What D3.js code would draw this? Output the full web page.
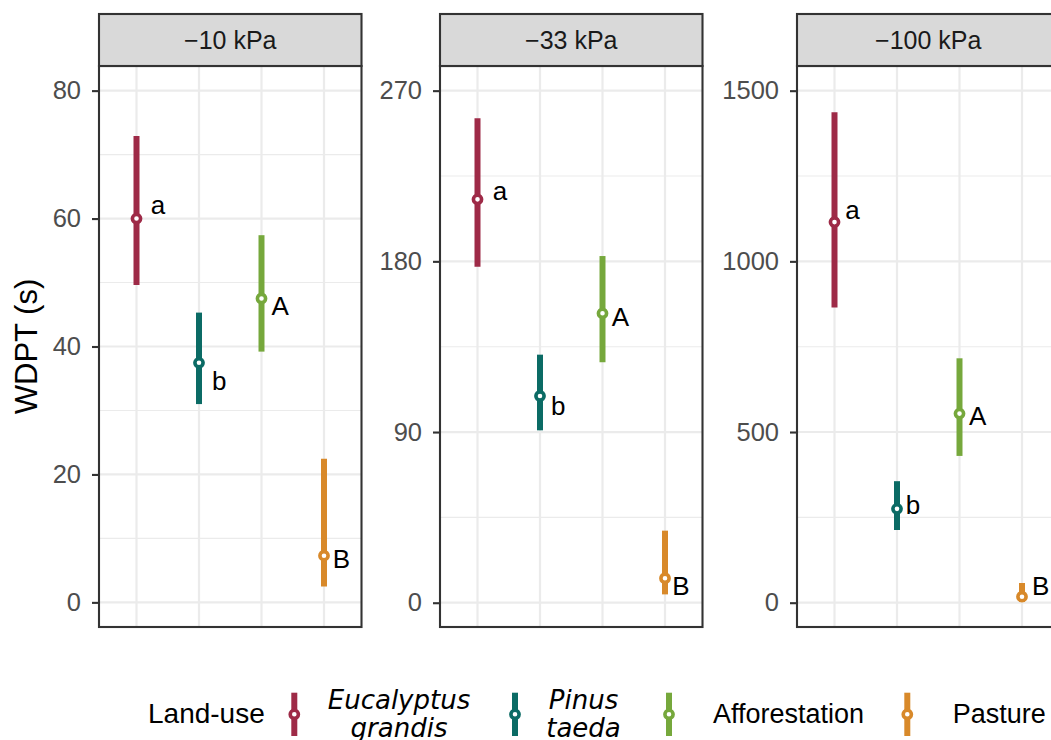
<!DOCTYPE html>
<html>
<head>
<meta charset="utf-8">
<script src="https://cdn.jsdelivr.net/npm/d3@7"></script>
<style>
  body { margin: 0; background: #fff; }
  svg { display: block; font-family: "Liberation Sans", Arial, sans-serif; }
</style>
</head>
<body>
<svg id="chart" width="1051" height="740"></svg>
<script>
// Data
const categories = ['Eucalyptus grandis', 'Pinus taeda', 'Afforestation', 'Pasture'];
const panelNames = ['\u221210 kPa', '\u221233 kPa', '\u2212100 kPa'];

const mean10 = [60.0, 37.45, 47.5, 7.3];
const low10 = [49.6, 31.0, 39.2, 2.5];
const high10 = [72.9, 45.3, 57.4, 22.45];

const mean33 = [212.7, 109.0, 152.6, 12.9];
const low33 = [177.2, 90.9, 126.8, 4.4];
const high33 = [255.4, 130.8, 182.8, 38.0];

const mean100 = [1115, 275, 554, 17.6];
const low100 = [865, 213, 430, 2];
const high100 = [1437, 356, 716, 57.7];

const letters = ['a', 'b', 'A', 'B'];
// letter label anchors (y in data units, x nudge in category steps)
const letterY10 = [62.2, 34.7, 46.4, 6.84];
const letterY33 = [217.0, 103.9, 150.7, 9.0];
const letterY100 = [1151.6, 287.4, 546.2, 48.0];
const letterDx10 = [0.344, 0.324, 0.297, 0.278];
const letterDx33 = [0.36, 0.29, 0.286, 0.254];
const letterDx100 = [0.286, 0.254, 0.29, 0.297];

const ticks10 = [0, 20, 40, 60, 80];
const ticks33 = [0, 90, 180, 270];
const ticks100 = [0, 500, 1000, 1500];

const colors = ['#9E2A47', '#0B6B65', '#76A83C', '#D8892A'];

// Layout
const panelTop = 66, panelBottom = 627, stripTop = 14;
const panelW = 262.5;
const panels = [
  { name: panelNames[0], left: 99, domain: [-3.85, 83.85], ticks: ticks10,
    mean: mean10, low: low10, high: high10, ly: letterY10, ldx: letterDx10 },
  { name: panelNames[1], left: 440, domain: [-12.8, 283.0], ticks: ticks33,
    mean: mean33, low: low33, high: high33, ly: letterY33, ldx: letterDx33 },
  { name: panelNames[2], left: 797, domain: [-71.2, 1572.3], ticks: ticks100,
    mean: mean100, low: low100, high: high100, ly: letterY100, ldx: letterDx100 }
];

const svg = d3.select('#chart');

panels.forEach(p => {
  const x = d3.scalePoint()
    .domain(categories)
    .range([p.left, p.left + panelW])
    .padding(0.6);
  const y = d3.scaleLinear()
    .domain(p.domain)
    .range([panelBottom, panelTop]);

  const g = svg.append('g');

  // minor grid
  const minor = [];
  const step = p.ticks[1] - p.ticks[0];
  p.ticks.forEach(t => {
    [t - step / 2, t + step / 2].forEach(v => {
      if (v > p.domain[0] && v < p.domain[1] && minor.indexOf(v) < 0) minor.push(v);
    });
  });
  g.selectAll('.minor').data(minor).enter().append('line')
    .attr('x1', p.left).attr('x2', p.left + panelW)
    .attr('y1', d => y(d)).attr('y2', d => y(d))
    .attr('stroke', '#EBEBEB').attr('stroke-width', 1.1);

  // major grid
  g.selectAll('.major').data(p.ticks).enter().append('line')
    .attr('x1', p.left).attr('x2', p.left + panelW)
    .attr('y1', d => y(d)).attr('y2', d => y(d))
    .attr('stroke', '#EBEBEB').attr('stroke-width', 2.2);
  g.selectAll('.vgrid').data(categories).enter().append('line')
    .attr('x1', d => x(d)).attr('x2', d => x(d))
    .attr('y1', panelTop).attr('y2', panelBottom)
    .attr('stroke', '#EBEBEB').attr('stroke-width', 2.2);

  // error bars
  g.selectAll('.bar').data(categories).enter().append('line')
    .attr('x1', d => x(d)).attr('x2', d => x(d))
    .attr('y1', (d, i) => y(p.low[i])).attr('y2', (d, i) => y(p.high[i]))
    .attr('stroke', (d, i) => colors[i]).attr('stroke-width', 6);

  // points
  g.selectAll('.pt').data(categories).enter().append('circle')
    .attr('cx', d => x(d)).attr('cy', (d, i) => y(p.mean[i]))
    .attr('r', 4.1).attr('fill', '#fff')
    .attr('stroke', (d, i) => colors[i]).attr('stroke-width', 3.6);

  // letters
  g.selectAll('.let').data(categories).enter().append('text')
    .attr('x', (d, i) => x(d) + p.ldx[i] * x.step())
    .attr('y', (d, i) => y(p.ly[i]))
    .attr('dy', '0.35em')
    .attr('text-anchor', 'middle')
    .attr('font-size', 26)
    .attr('fill', '#000')
    .text((d, i) => letters[i]);

  // panel border
  g.append('rect')
    .attr('x', p.left).attr('y', panelTop)
    .attr('width', panelW).attr('height', panelBottom - panelTop)
    .attr('fill', 'none').attr('stroke', '#333333').attr('stroke-width', 2.1);

  // strip
  g.append('rect')
    .attr('x', p.left).attr('y', stripTop)
    .attr('width', panelW).attr('height', panelTop - stripTop)
    .attr('fill', '#D9D9D9').attr('stroke', '#333333').attr('stroke-width', 2.1);
  g.append('text')
    .attr('x', p.left + panelW / 2).attr('y', (stripTop + panelTop) / 2)
    .attr('dy', '0.36em')
    .attr('text-anchor', 'middle')
    .attr('font-size', 25)
    .attr('fill', '#1A1A1A')
    .text(p.name);

  // y axis
  const axis = g.append('g')
    .attr('transform', `translate(${p.left},0)`)
    .call(d3.axisLeft(y).tickValues(p.ticks).tickFormat(d3.format('d'))
      .tickSize(7).tickPadding(11));
  axis.select('.domain').remove();
  axis.selectAll('line').attr('stroke', '#333333').attr('stroke-width', 2.1);
  axis.selectAll('text')
    .attr('fill', '#4D4D4D')
    .attr('font-size', 25.5)
    .attr('font-family', '"Liberation Sans", Arial, sans-serif');
});

// y title
svg.append('text')
  .attr('transform', `translate(37,${(panelTop + panelBottom) / 2}) rotate(-90)`)
  .attr('text-anchor', 'middle')
  .attr('font-size', 31)
  .attr('fill', '#000')
  .text('WDPT (s)');

// legend
svg.append('text')
  .attr('x', 148).attr('y', 722.7)
  .attr('font-size', 28)
  .text('Land-use');

const keyX = [294.3, 515, 669, 907.3];
const legend = svg.append('g');
keyX.forEach((kx, i) => {
  legend.append('line')
    .attr('x1', kx).attr('x2', kx).attr('y1', 692.7).attr('y2', 736)
    .attr('stroke', colors[i]).attr('stroke-width', 6);
  legend.append('circle')
    .attr('cx', kx).attr('cy', 714.3).attr('r', 4.1)
    .attr('fill', '#fff').attr('stroke', colors[i]).attr('stroke-width', 3.6);
});

function italicLabel(cx, words) {
  const t = legend.append('text')
    .attr('text-anchor', 'middle')
    .attr('font-family', '"DejaVu Sans", sans-serif')
    .attr('font-style', 'italic')
    .attr('font-size', 26);
  t.append('tspan').attr('x', cx).attr('y', 709.3).text(words[0]);
  t.append('tspan').attr('x', cx).attr('y', 737).text(words[1]);
}
italicLabel(399, categories[0].split(' '));
italicLabel(583.5, categories[1].split(' '));

legend.append('text').attr('x', 713).attr('y', 723.3)
  .attr('font-size', 27).text(categories[2]);
legend.append('text').attr('x', 952.7).attr('y', 723.3)
  .attr('font-size', 27).text(categories[3]);
</script>
</body>
</html>
